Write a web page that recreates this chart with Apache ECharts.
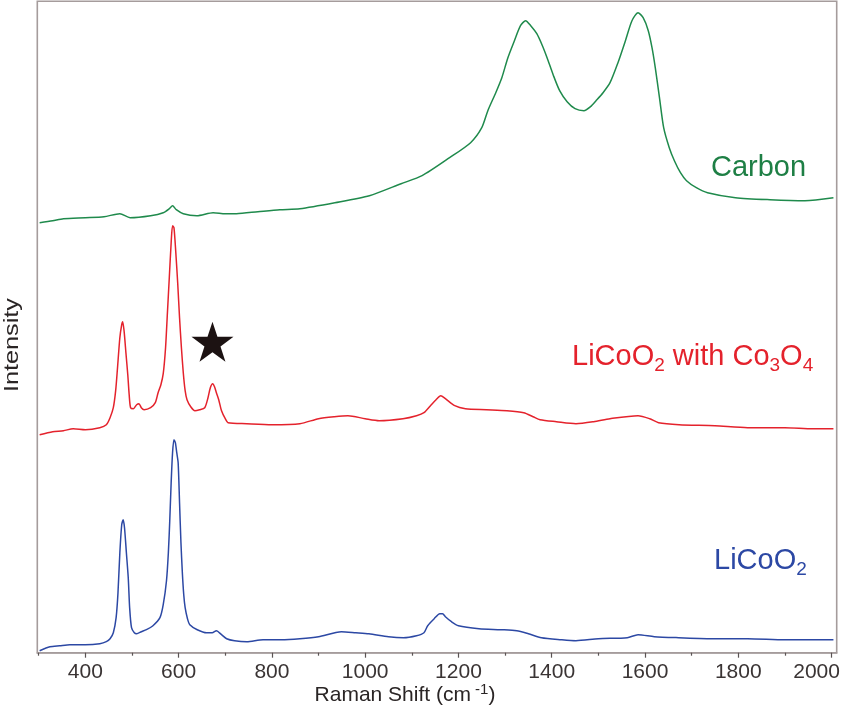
<!DOCTYPE html>
<html>
<head>
<meta charset="utf-8">
<script src="https://cdn.jsdelivr.net/npm/echarts@6/dist/echarts.min.js"></script>
<style>html,body{margin:0;padding:0;background:#fff;}#c{width:845px;height:720px;}</style>
</head>
<body>
<div id="c"></div>
<script>
// ---- data (Raman shift in cm-1, offset intensity in arbitrary units) ----
const majorTicks = [400, 600, 800, 1000, 1200, 1400, 1600, 1800, 2000];
const minorTicks = [300, 500, 700, 900, 1100, 1300, 1500, 1700, 1900];

const carbonX = [302,330,353,400,440,474,496,540,567,580,587,595,610,639,674,700,724,770,817,860,935,1009,1077,1122,1181,1226,1250,1263,1280,1293,1306,1320,1333,1344,1355,1368,1380,1390,1403,1417,1433,1450,1469,1483,1495,1510,1525,1542,1558,1572,1585,1596,1607,1615,1622,1631,1640,1652,1663,1676,1689,1710,1734,1794,1868,1943,2004];
const carbonY = [430,432,434,435,436,439,435,437,440,444,447,443,439,437,440,439,439,441,443,444,450,457,469,477,495,510,525,542,560,575,595,612,627,632,627,619,607,595,578,562,551,544,542,546,552,560,570,590,612,632,640,635,622,605,585,555,525,505,492,480,472,465,460,455,453,452,455];

const mixX = [302,330,353,374,400,431,445,453,460,465,469,474,478,480,483,487,491,494,497,503,510,515,520,526,540,550,556,562,567,572,576,580,584,587,590,594,598,602,606,610,614,618,626,635,645,656,663,668,673,677,681,686,692,700,706,746,800,860,900,934,963,1000,1030,1081,1110,1126,1140,1152,1162,1172,1192,1215,1260,1304,1340,1360,1375,1410,1452,1490,1525,1585,1610,1629,1673,1750,1820,1900,1960,2004];
const mixY = [218,221,222,224,223,225,228,235,245,262,285,315,328,331,322,300,278,258,245,244,248,249,245,243,245,250,260,268,279,305,340,375,410,427,425,400,370,335,305,280,262,253,246,242,243,245,255,265,269,266,260,253,242,234,230,229,228,229,234,236,237,234,232,234,237,240,247,253,257,254,247,244,243,242,240,236,233,231,229,231,234,237,234,230,228,227,225,225,224,224];

const licooX = [302,324,345,367,400,431,445,453,460,466,470,474,478,481,484,488,492,495,499,505,510,520,531,545,560,567,574,578,581,584,587,590,593,596,599,602,605,608,611,614,619,624,640,660,672,681,692,703,720,746,781,820,860,900,949,980,1008,1050,1082,1110,1126,1134,1148,1160,1166,1172,1185,1200,1244,1290,1325,1350,1378,1420,1452,1500,1562,1585,1620,1672,1750,1820,1900,1960,2004];
const licooY = [2,6,7,8,8,9,11,14,20,35,60,100,128,133,125,100,75,45,25,20,19,21,23,27,35,48,72,100,132,170,200,213,210,200,190,150,110,80,58,45,34,28,23,20,20,22,18,14,12,11,13,13,14,16,21,20,19,16,15,17,20,27,34,39,39,36,31,27,24,23,22,19,15,13,12,14,15,18,16,15,14,14,13,13,13];

const zip = (xs, ys) => xs.map((x, i) => [x, ys[i]]);

const FONT = '"Liberation Sans", Arial, Helvetica, sans-serif';
const starPath = 'path://M50,2 L61.8,38.2 L100,38.2 L69.1,61.8 L80.9,98 L50,75.6 L19.1,98 L30.9,61.8 L0,38.2 L38.2,38.2 Z';
const lastTick = majorTicks[majorTicks.length - 1];

const chart = echarts.init(document.getElementById('c'), null, {renderer: 'canvas'});
chart.setOption({
  animation: false,
  backgroundColor: '#ffffff',
  grid: {left: 37.3, right: 8.3, top: 1.3, bottom: 67.3, containLabel: false, outerBoundsMode: 'none',
         show: true, borderColor: '#a59c9c', borderWidth: 1.6, backgroundColor: 'transparent'},
  xAxis: [{
    type: 'value', min: 297, max: 2011, position: 'bottom',
    axisLine: {show: true, lineStyle: {color: '#a59c9c', width: 1.6}},
    axisTick: {show: true, customValues: majorTicks, length: 5, lineStyle: {color: '#5a5353', width: 1.2}},
    axisLabel: {show: true, customValues: majorTicks, margin: 9, fontSize: 21, fontFamily: FONT, color: '#3a3434',
                formatter: v => (v === lastTick ? '{e|' + v + '}' : String(v)),
                rich: {e: {fontSize: 21, fontFamily: FONT, color: '#3a3434', padding: [0, 30, 0, 0]}}},
    splitLine: {show: false}
  }, {
    type: 'value', min: 297, max: 2011, position: 'bottom', gridIndex: 0,
    axisLine: {show: false},
    axisTick: {show: true, customValues: minorTicks, length: 3, lineStyle: {color: '#5a5353', width: 1.2}},
    axisLabel: {show: false},
    splitLine: {show: false}
  }],
  yAxis: {
    type: 'value', min: 0, max: 651.4,
    axisLine: {show: false}, axisTick: {show: false}, axisLabel: {show: false}, splitLine: {show: false}
  },
  series: [
    {name: 'Carbon', type: 'line', data: zip(carbonX, carbonY), showSymbol: false, symbol: 'none', smooth: 0.25,
     lineStyle: {color: '#1f8a4c', width: 1.5}},
    {name: 'LiCoO2 with Co3O4', type: 'line', data: zip(mixX, mixY), showSymbol: false, symbol: 'none', smooth: 0.25,
     lineStyle: {color: '#e4222c', width: 1.5},
     markPoint: {symbol: starPath, symbolSize: [42, 40], silent: true, label: {show: false},
       itemStyle: {color: '#1c1212'},
       data: [{coord: [672.6, 311]}]}},
    {name: 'LiCoO2', type: 'line', data: zip(licooX, licooY), showSymbol: false, symbol: 'none', smooth: 0.25,
     lineStyle: {color: '#2c48a4', width: 1.5}}
  ],
  graphic: [
    {type: 'text', x: 711, y: 168, style: {text: 'Carbon', fontSize: 29, fontFamily: FONT, fill: '#1e7f45', textAlign: 'left', textVerticalAlign: 'middle'}},
    {type: 'text', x: 572, y: 357, style: {
      text: '{m|LiCoO}{s|2}{m| with Co}{s|3}{m|O}{s|4}', textAlign: 'left', textVerticalAlign: 'middle', fill: '#e4222c',
      rich: {m: {fontSize: 29, lineHeight: 36, fontFamily: FONT, fill: '#e4222c'},
             s: {fontSize: 19, lineHeight: 24, verticalAlign: 'bottom', fontFamily: FONT, fill: '#e4222c'}}}},
    {type: 'text', x: 714, y: 561, style: {
      text: '{m|LiCoO}{s|2}', textAlign: 'left', textVerticalAlign: 'middle', fill: '#2c48a4',
      rich: {m: {fontSize: 29, lineHeight: 36, fontFamily: FONT, fill: '#2c48a4'},
             s: {fontSize: 19, lineHeight: 24, verticalAlign: 'bottom', fontFamily: FONT, fill: '#2c48a4'}}}},
    {type: 'text', x: 405, y: 695, style: {
      text: '{m|Raman Shift (cm}{p| -1}{m|)}', textAlign: 'center', textVerticalAlign: 'middle', fill: '#2a2525',
      rich: {m: {fontSize: 21, lineHeight: 26, fontFamily: FONT, fill: '#2a2525'},
             p: {fontSize: 15, lineHeight: 14, verticalAlign: 'top', fontFamily: FONT, fill: '#2a2525'}}}},
    {type: 'text', x: 12.5, y: 345, rotation: Math.PI / 2, scaleX: 1.2, style: {text: 'Intensity', fontSize: 21, fontFamily: FONT, fill: '#2a2525', textAlign: 'center', textVerticalAlign: 'middle'}}
  ]
});
</script>
</body>
</html>
